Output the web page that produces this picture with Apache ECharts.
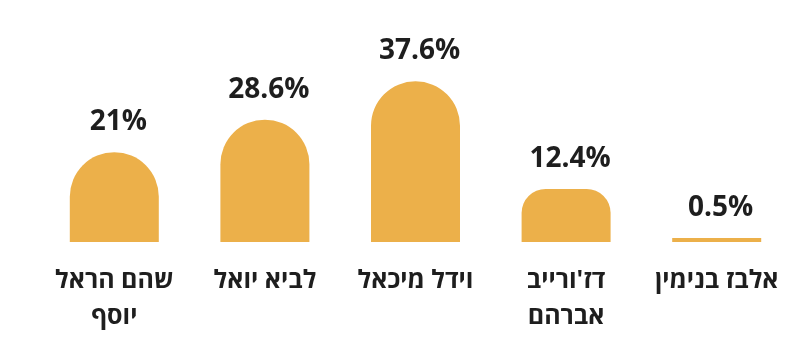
<!DOCTYPE html>
<html><head><meta charset="utf-8">
<script src="https://cdn.jsdelivr.net/npm/echarts@6/dist/echarts.min.js"></script>
<style>html,body{margin:0;padding:0;background:#fff}#c{width:799px;height:357px}</style>
</head><body><div id="c"></div>
<script>
const categories = ["שהם הראל\nיוסף", "לביא יואל", "וידל מיכאל", "דז'ורייב\nאברהם", "אלבז בנימין"];
const values = [21, 28.6, 37.6, 12.4, 0.5];
const radii = [45, 45, 45, 24, 0];

const chart = echarts.init(document.getElementById('c'));
chart.setOption({
  animation: false,
  grid: {left: 39, right: 7, top: 71, bottom: 115},
  xAxis: {
    type: 'category', data: categories,
    axisLine: {show: false}, axisTick: {show: false},
    axisLabel: {margin: 21, fontFamily: 'Open Sans', fontWeight: 'bold', fontSize: 25, color: '#1e1e1e', lineHeight: 36, interval: 0}
  },
  yAxis: {type: 'value', min: 0, max: 40, show: false, splitLine: {show: false}},
  series: [{
    type: 'bar', barWidth: 89, barMinHeight: 4,
    data: values.map((v, i) => ({value: v, itemStyle: {borderRadius: [radii[i], radii[i], 0, 0]}})),
    itemStyle: {color: '#ECB04A'},
    label: {show: true, position: 'top', distance: 16, offset: [4, 0], formatter: p => p.value + '%',
      fontFamily: 'Open Sans', fontWeight: 'bold', fontSize: 28, color: '#1e1e1e'}
  }]
});
</script></body></html>
